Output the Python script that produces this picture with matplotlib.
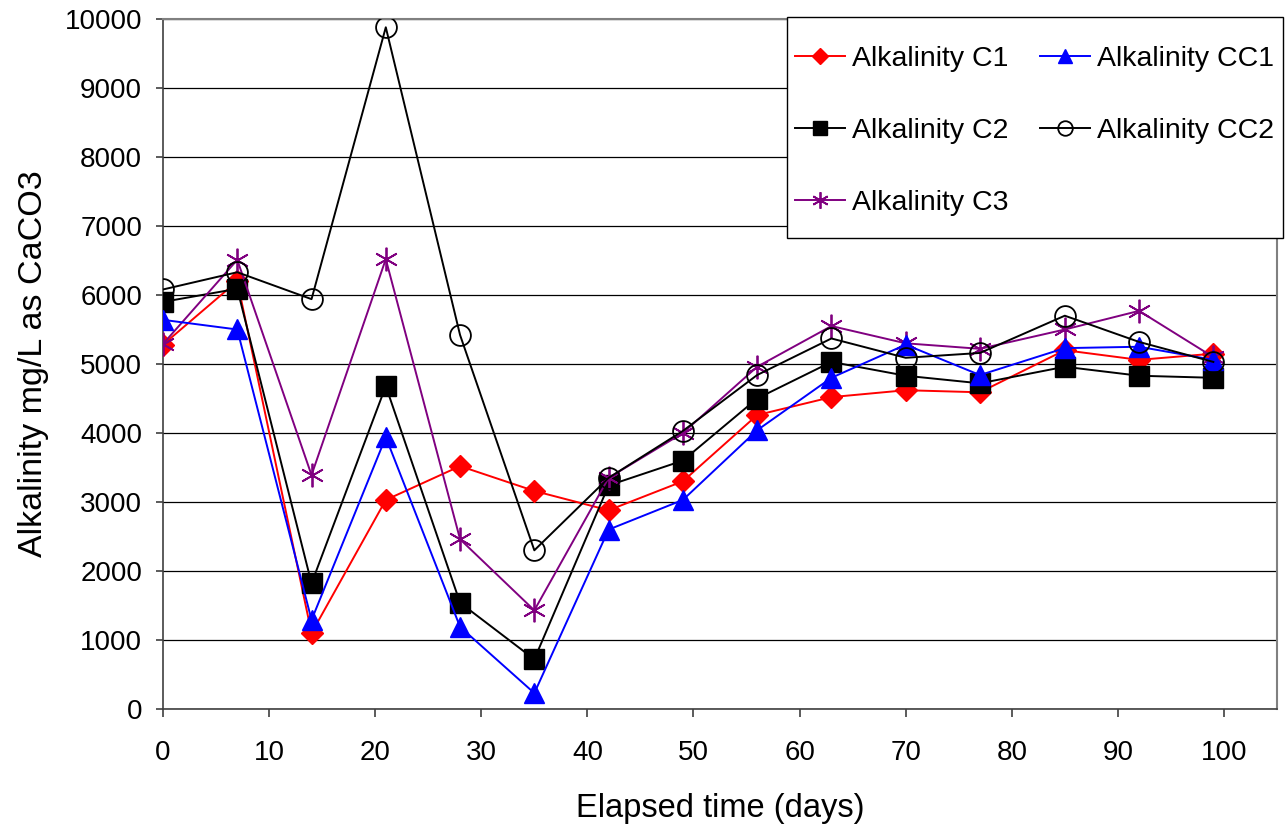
import matplotlib
matplotlib.use("Agg")
import matplotlib.pyplot as plt
from matplotlib.patches import Rectangle

plt.rcParams['font.family'] = ['Liberation Sans', 'DejaVu Sans']

days = [0, 7, 14, 21, 28, 35, 42, 49, 56, 63, 70, 77, 85, 92, 99]

alk_c1 = [5280, 6200, 1100, 3030, 3520, 3160, 2880, 3300, 4260, 4520, 4620, 4590, 5200, 5060, 5150]
alk_cc1 = [5640, 5500, 1290, 3940, 1190, 230, 2600, 3030, 4040, 4800, 5280, 4840, 5230, 5250, 5060]
alk_c2 = [5900, 6090, 1820, 4680, 1540, 720, 3240, 3600, 4500, 5030, 4830, 4720, 4960, 4830, 4800]
alk_cc2 = [6080, 6330, 5940, 9880, 5420, 2300, 3350, 4030, 4840, 5370, 5090, 5160, 5700, 5320, 5030]
alk_c3 = [5290, 6510, 3390, 6520, 2460, 1430, 3350, 4000, 4960, 5550, 5300, 5220, 5500, 5770, 5100]

fig = plt.figure(figsize=(12.86, 8.31), dpi=100)
ax = fig.add_axes([163 / 1286, 1 - 709 / 831, (1277 - 163) / 1286, (709 - 19) / 831])

lw = 1.4
h_c1, = ax.plot(days, alk_c1, color='#FF0000', lw=lw, marker='D', ms=11,
                mec='#FF0000', mfc='#FF0000', label='Alkalinity C1', zorder=3)
h_c2, = ax.plot(days, alk_c2, color='black', lw=lw, marker='s', ms=15,
                mec='black', mfc='black', label='Alkalinity C2', zorder=3)
h_c3, = ax.plot(days, alk_c3, color='#800080', lw=lw, marker=(6, 2, 0), ms=17,
                mec='#800080', mew=1.3, label='Alkalinity C3', zorder=3)
h_cc1, = ax.plot(days, alk_cc1, color='#0000FF', lw=lw, marker='^', ms=15,
                 mec='#0000FF', mfc='#0000FF', label='Alkalinity CC1', zorder=3)
h_cc2, = ax.plot(days, alk_cc2, color='black', lw=lw, marker='o', ms=15,
                 mec='black', mfc='none', mew=1.3, label='Alkalinity CC2', zorder=3)

ax.set_xlim(0, 105)
ax.set_ylim(0, 10000)
ax.set_xticks(range(0, 101, 10))
ax.set_yticks(range(0, 10001, 1000))
ax.yaxis.grid(True, color='black', lw=0.9)
ax.set_axisbelow(True)

for side in ['top', 'right']:
    ax.spines[side].set_color('#808080')
    ax.spines[side].set_linewidth(1.5)
for side in ['left', 'bottom']:
    ax.spines[side].set_color('#404040')
    ax.spines[side].set_linewidth(1.2)

ax.tick_params(axis='x', direction='out', length=6, width=1.2, color='#404040',
               labelsize=20, pad=16)
ax.tick_params(axis='y', direction='out', length=5, width=1.2, color='#404040',
               labelsize=20, pad=10)

ax.set_xlabel('Elapsed time (days)', fontsize=23.5, labelpad=20)
ax.set_ylabel('Alkalinity mg/L as CaCO3', fontsize=24.5, labelpad=11)

# legend box drawn separately so the padding can differ per side
fig.patches.append(Rectangle((787 / 1286, 1 - 238 / 831), (1283 - 787) / 1286,
                             (238 - 17) / 831, transform=fig.transFigure,
                             facecolor='white', edgecolor='black', lw=1.0, zorder=5))

leg = fig.legend(handles=[h_c1, h_c2, h_c3, h_cc1, h_cc2], ncol=2,
                 loc='upper left', bbox_to_anchor=(795 / 1286, 1 - 46 / 831),
                 fontsize=20.5, frameon=False, borderpad=0, borderaxespad=0,
                 handlelength=1.75, labelspacing=1.62, columnspacing=1.1,
                 handletextpad=0.25, markerscale=0.7)
leg.set_zorder(6)

fig.savefig('out.png', dpi=100)
